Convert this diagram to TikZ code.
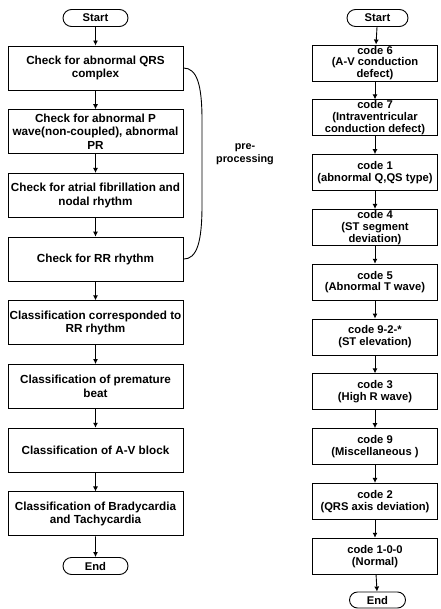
\documentclass[tikz,border=0pt]{standalone}
\usepackage{fontspec}
\setmainfont{Liberation Sans}
\usetikzlibrary{shapes.misc,arrows.meta}
\begin{document}
\begin{tikzpicture}[x=1pt,y=-1pt,
  lbox/.style={draw,line width=0.9pt,rectangle,minimum width=175pt,minimum height=44pt,inner sep=0pt,align=center,font=\fontsize{11.7}{13.5}\selectfont\bfseries},
  rbox/.style={draw,line width=0.9pt,rectangle,minimum width=125pt,minimum height=36pt,inner sep=0pt,align=center,font=\fontsize{11.2}{11.8}\selectfont\bfseries},
  term/.style={draw,line width=0.9pt,rounded rectangle,minimum height=17pt,inner sep=0pt,font=\fontsize{11.2}{13}\selectfont\bfseries},
  arr/.style={line width=0.9pt,-{Latex[length=5pt,width=5pt]}}]
\useasboundingbox (0,0) rectangle (440,609);
% left column
\node[term,minimum width=65pt] (ls) at (95.5,18) {Start};
\node[lbox] (l1) at (95.5,68) {Check for abnormal QRS\\complex};
\node[lbox] (l2) at (95.5,131.7) {Check for abnormal P\\wave(non-coupled), abnormal\\PR};
\node[lbox] (l3) at (95.5,195.4) {Check for atrial fibrillation and\\nodal rhythm};
\node[lbox] (l4) at (95.5,259.1) {Check for RR rhythm};
\node[lbox] (l5) at (95.5,322.8) {Classification corresponded to\\RR rhythm};
\node[lbox] (l6) at (95.5,386.5) {Classification of premature\\beat};
\node[lbox] (l7) at (95.5,450.2) {Classification of A-V block};
\node[lbox] (l8) at (95.5,513.9) {Classification of Bradycardia\\and Tachycardia};
\node[term,minimum width=65pt] (le) at (95.5,566) {End};
\draw[arr] (ls) -- (l1);
\draw[arr] (l1) -- (l2);
\draw[arr] (l2) -- (l3);
\draw[arr] (l3) -- (l4);
\draw[arr] (l4) -- (l5);
\draw[arr] (l5) -- (l6);
\draw[arr] (l6) -- (l7);
\draw[arr] (l7) -- (l8);
\draw[arr] (l8) -- (le);
% brace
\draw[line width=0.9pt] (l1.east) .. controls (197,68) and (202,85) .. (202,120) -- (202,205) .. controls (202,242) and (197,259.1) .. (l4.east);
\node[font=\fontsize{10.8}{13}\selectfont\bfseries,align=center] (pp) at (245,154) {pre-\\processing};
% right column
\node[term,minimum width=61pt] (rs) at (377.5,18) {Start};
\node[rbox] (r1) at (375,63) {code 6\\(A-V conduction\\defect)};
\node[rbox] (r2) at (375,117.8) {code 7\\(Intraventricular\\conduction defect)};
\node[rbox] (r3) at (375,172.6) {code 1\\(abnormal Q,QS type)};
\node[rbox] (r4) at (375,227.4) {code 4\\(ST segment\\deviation)};
\node[rbox] (r5) at (375,282.2) {code 5\\(Abnormal T wave)};
\node[rbox] (r6) at (375,337) {code 9-2-*\\(ST elevation)};
\node[rbox] (r7) at (375,391.8) {code 3\\(High R wave)};
\node[rbox] (r8) at (375,446.6) {code 9\\(Miscellaneous )};
\node[rbox] (r9) at (375,501.4) {code 2\\(QRS axis deviation)};
\node[rbox] (r10) at (375,556.2) {code 1-0-0\\(Normal)};
\node[term,minimum width=56pt,minimum height=16pt] (re) at (377.5,600) {End};
\draw[arr] (rs) -- (r1);
\draw[arr] (r1) -- (r2);
\draw[arr] (r2) -- (r3);
\draw[arr] (r3) -- (r4);
\draw[arr] (r4) -- (r5);
\draw[arr] (r5) -- (r6);
\draw[arr] (r6) -- (r7);
\draw[arr] (r7) -- (r8);
\draw[arr] (r8) -- (r9);
\draw[arr] (r9) -- (r10);
\draw[arr] (r10) -- (re);
\end{tikzpicture}
\end{document}
